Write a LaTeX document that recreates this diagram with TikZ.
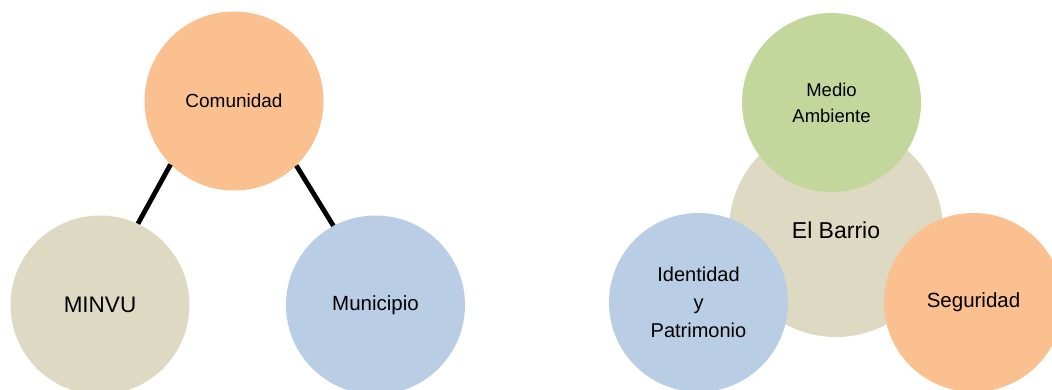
\documentclass[tikz,border=0pt]{standalone}
\usepackage{fontspec}
\setmainfont{Liberation Sans}
\usetikzlibrary{positioning}
\definecolor{tanFill}{HTML}{DDD9C3}
\definecolor{orangeFill}{HTML}{FAC090}
\definecolor{blueFill}{HTML}{B9CDE5}
\definecolor{greenFill}{HTML}{C3D69B}
\tikzset{
  bubble/.style={
    % The shape:
    circle,
    % The size:
    minimum size=179pt,
    inner sep=0pt,
    % The border:
    draw=none,
    % Font
    align=center,
    text=black
  },
  big bubble/.style={bubble,minimum size=214pt},
  fs/.style 2 args={font=\fontsize{#1}{#2}\selectfont}
}

\begin{document}
\begin{tikzpicture}[x=1pt,y=1pt,
                    link/.style={line width=4.8pt,draw=black}]
  \useasboundingbox (0,0) rectangle (1052,389);
  % left group
  \node (com)   [bubble,fill=orangeFill,fs={19}{26}]   at (234,288)   {Comunidad};
  \node (minvu) [bubble,fill=tanFill,fs={22.5}{30}]    at (100,84)    {MINVU};
  \node (mun)   [bubble,fill=blueFill,fs={20.5}{28}]   at (375.5,84)  {Municipio};
  \draw [link] (com.225) -- (minvu.65);
  \draw [link] (com.-46) -- (mun.118);

  % right group
  \node (barrio) [big bubble,fill=tanFill,fs={23}{30}] at (836,159)   {El Barrio};
  \node (medio)  [bubble,fill=greenFill,fs={18.5}{26}] at (831.5,286.5) {Medio\\Ambiente};
  \node (ident)  [bubble,fill=blueFill,fs={20}{28}]    at (698.5,86.5) {Identidad\\y\\Patrimonio};
  \node (segur)  [bubble,fill=orangeFill,fs={20.5}{28}] at (973.5,86.5) {Seguridad};
\end{tikzpicture}
\end{document}
